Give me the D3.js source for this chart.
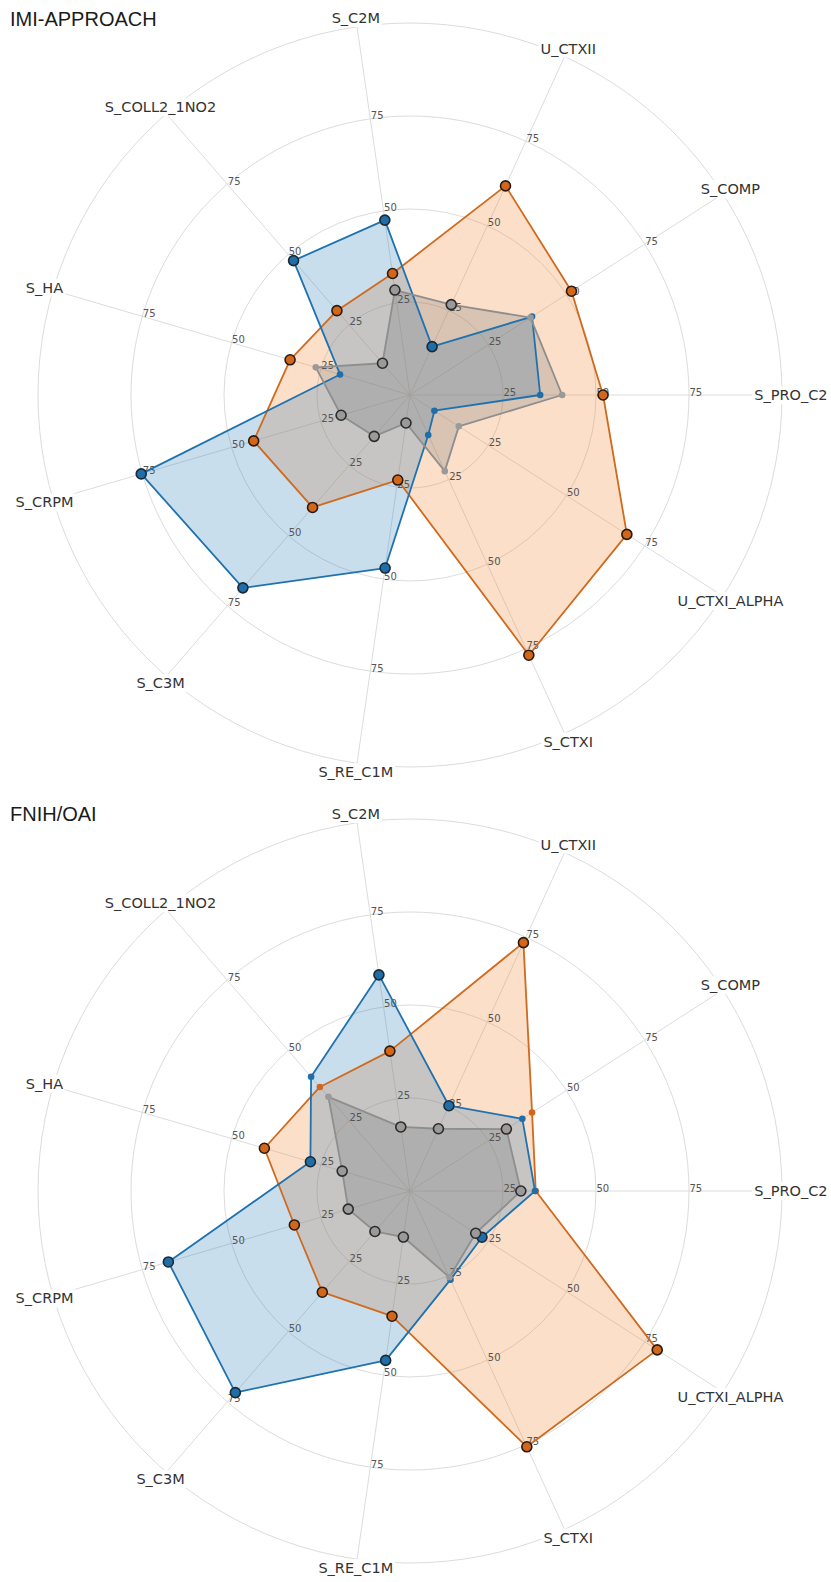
<!DOCTYPE html>
<html>
<head>
<meta charset="utf-8">
<script src="https://cdn.jsdelivr.net/npm/d3@7"></script>
<style>
body{margin:0;background:#fff}
text{font-family:"DejaVu Sans",sans-serif}
</style>
</head>
<body>
<svg id="chart" width="831" height="1582"></svg>
<script>
// axis names, counter-clockwise from the right
const axis_names = ["S_PRO_C2","S_COMP","U_CTXII","S_C2M","S_COLL2_1NO2","S_HA",
    "S_CRPM","S_C3M","S_RE_C1M","S_CTXI","U_CTXI_ALPHA"]
const tick_values = [25,50,75]
const grid_values = [25,50,75,100]
const chart_titles = ["IMI-APPROACH","FNIH/OAI"]

// IMI-APPROACH
const imi_blue   = [35, 39, 14.3, 47.5, 47.8, 19.6, 75.3, 68.6, 47, 11.8, 7.8]
const imi_blue_big   = [0,0,1,1,1,0,1,1,1,0,0]
const imi_orange = [51.9, 51.6, 61.8, 33, 30, 33.6, 43.8, 40, 23.1, 76.9, 69.3]
const imi_orange_big = [1,1,1,1,1,1,1,1,1,1,1]
const imi_gray   = [40.9, 38.5, 26.7, 28.5, 11.3, 26.4, 19.3, 14.7, 7.6, 22.5, 15.6]
const imi_gray_big   = [0,0,1,1,1,0,1,1,1,0,0]

// FNIH/OAI
const oai_blue   = [33.6, 35.9, 25.2, 58.7, 40.6, 27.9, 67.7, 71.7, 46, 26.2, 23]
const oai_blue_big   = [0,0,1,1,0,1,1,1,1,0,1]
const oai_orange = [33.8, 39, 73.4, 38, 37, 40.8, 32.4, 36, 34, 75.6, 79]
const oai_orange_big = [0,0,1,1,0,1,1,1,1,1,1]
const oai_gray   = [29.8, 30.8, 18.4, 17.4, 33.5, 19, 17.3, 14.4, 12.5, 25.5, 21]
const oai_gray_big   = [1,1,1,1,0,1,1,1,1,0,1]

const styles = {
    blue:   {line:"#1f72ae", fill:"rgba(31,119,180,0.24)", dot:"#1f6ea8", edge:"#1b2a36"},
    orange: {line:"#cf6a1e", fill:"rgba(245,140,60,0.28)", dot:"#d2661b", edge:"#2a1a10"},
    gray:   {line:"#8e8e8e", fill:"rgba(110,110,110,0.25)", dot:"#9a9a9a", edge:"#2b2b2b"}
}

// orange is filled first so that the blue over it reads as grey
const charts = [
    {title: chart_titles[0], cy: 395, ty: 26, series: [
        {key:"orange", values: imi_orange, big: imi_orange_big},
        {key:"blue", values: imi_blue, big: imi_blue_big},
        {key:"gray", values: imi_gray, big: imi_gray_big}]},
    {title: chart_titles[1], cy: 1191, ty: 821, series: [
        {key:"orange", values: oai_orange, big: oai_orange_big},
        {key:"blue", values: oai_blue, big: oai_blue_big},
        {key:"gray", values: oai_gray, big: oai_gray_big}]}
]

let svg = d3.select("#chart")
const cx = 410
const R = 372
let r = d3.scaleLinear().domain([0,100]).range([0,R])
// angle in radians, counter-clockwise from 3 o'clock
let theta = d3.scaleLinear().domain([0, axis_names.length]).range([0, 2*Math.PI])
const px = (i,v) => r(v)*Math.cos(theta(i))
const py = (i,v) => -r(v)*Math.sin(theta(i))

charts.forEach(function(chart){
    svg.append("text")
        .attr("x",10).attr("y",chart.ty)
        .style("font-family","'Liberation Sans',Arial,sans-serif")
        .style("font-size","20px")
        .attr("fill","#1a1a1a")
        .text(chart.title)

    let g = svg.append("g").attr("transform",`translate(${cx},${chart.cy})`)

    // grid circles and spokes
    g.selectAll(".grid").data(grid_values).enter().append("circle")
        .attr("r", d=>r(d)).attr("fill","none")
        .attr("stroke","#dcdcdc").attr("stroke-width",1)
    g.selectAll(".spoke").data(axis_names).enter().append("line")
        .attr("x1",0).attr("y1",0)
        .attr("x2",(d,i)=>px(i,100)).attr("y2",(d,i)=>py(i,100))
        .attr("stroke","#dcdcdc").attr("stroke-width",1)

    // fills first (under everything else)
    let radial = d3.lineRadial()
        .angle((d,i)=>Math.PI/2 - theta(i))
        .radius(d=>r(d))
        .curve(d3.curveLinearClosed)
    chart.series.forEach(function(s){
        g.append("path").attr("d", radial(s.values))
            .attr("fill", styles[s.key].fill).attr("stroke","none")
    })

    // tick labels on each axis
    axis_names.forEach(function(name,i){
        g.selectAll(null).data(tick_values).enter().append("text")
            .attr("x", d=>px(i,d)+0.5).attr("y", d=>py(i,d)+0.5)
            .attr("text-anchor","start")
            .style("font-size","10px")
            .attr("fill","#555")
            .text(d=>d)
    })

    // outlines
    chart.series.forEach(function(s){
        g.append("path").attr("d", radial(s.values))
            .attr("fill","none").attr("stroke", styles[s.key].line)
            .attr("stroke-width",1.8).attr("stroke-linejoin","round")
    })

    // markers
    chart.series.forEach(function(s){
        g.selectAll(null).data(s.values).enter().append("circle")
            .attr("cx",(d,i)=>px(i,d)).attr("cy",(d,i)=>py(i,d))
            .attr("r",(d,i)=>s.big[i] ? 5 : 3.3)
            .attr("fill", styles[s.key].dot)
            .attr("stroke",(d,i)=>s.big[i] ? styles[s.key].edge : "none")
            .attr("stroke-width",1.6)
    })

    // axis labels with white boxes
    let labels = g.selectAll(".axis-label").data(axis_names).enter().append("g")
        .attr("transform",(d,i)=>`translate(${px(i,102.4)},${py(i,102.4)})`)
    let txt = labels.append("text")
        .attr("text-anchor","middle").attr("dy","0.35em")
        .style("font-size","14.5px").attr("fill","#333")
        .text(d=>d)
    txt.each(function(){
        let bb = this.getBBox()
        d3.select(this.parentNode).insert("rect","text")
            .attr("x",bb.x-2).attr("y",bb.y-1)
            .attr("width",bb.width+4).attr("height",bb.height+2)
            .attr("fill","#fff")
    })
})
</script>
</body>
</html>
